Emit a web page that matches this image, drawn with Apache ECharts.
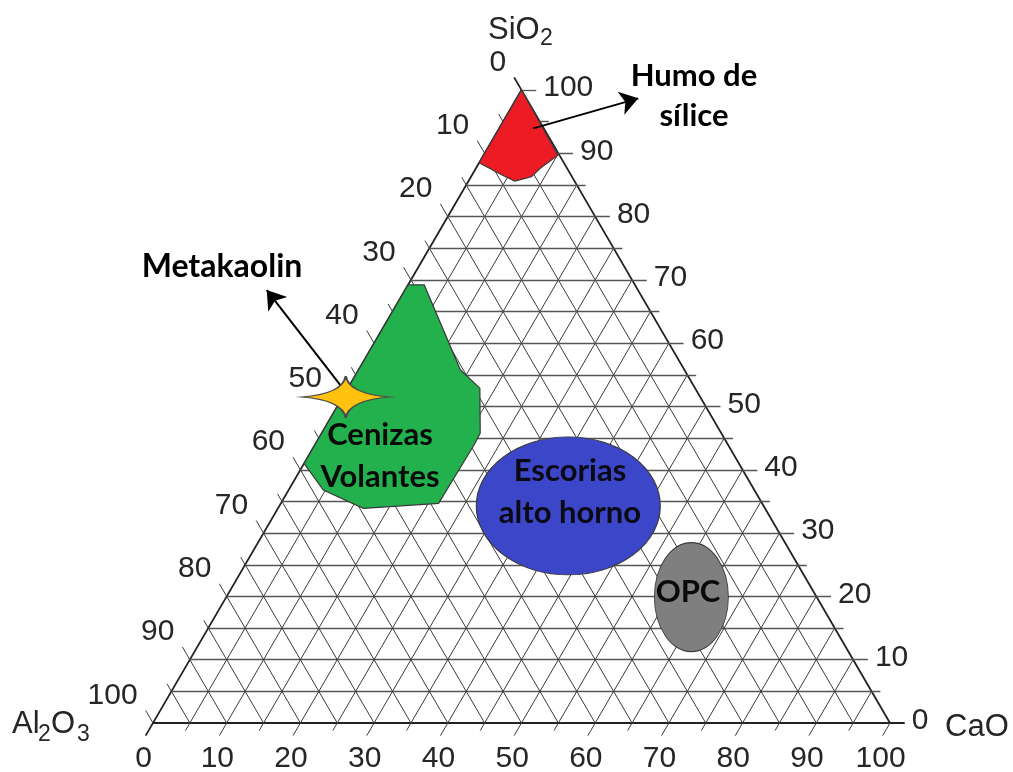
<!DOCTYPE html>
<html>
<head>
	<meta charset="UTF-8">
	<title>Diagrama ternario SiO2 - Al2O3 - CaO</title>
	<script src="https://cdn.jsdelivr.net/npm/echarts@6/dist/echarts.min.js"></script>
	<style>
		html, body { margin: 0; padding: 0; background: #fff; }
		#main { width: 1013px; height: 772px; }
	</style>
</head>
<body>
<div id="main"></div>
<script>
	// marcas de los tres ejes (% en peso)
	var ticks = [0, 10, 20, 30, 40, 50, 60, 70, 80, 90, 100];
	var gridSteps = [0, 5, 10, 15, 20, 25, 30, 35, 40, 45, 50, 55, 60, 65, 70, 75, 80, 85, 90, 95, 100];

	// regiones, puntos [SiO2, CaO]  (Al2O3 = 100 - SiO2 - CaO)
	var humoSilice = [[100, 0], [89.7, 10.1], [87.6, 8.7], [86.3, 8.2], [85.6, 6.3], [86.6, 4.0], [88.5, 0]];
	var cenizasVolantes = [[69.2, 0], [69.2, 2.2], [55.8, 13.8], [52.9, 17.9], [45.8, 21.5], [44.2, 21.6],
		[34.7, 21.4], [33.9, 11.6], [36.8, 4.7], [41.0, 0]];
	var escorias = [[34.3, 39.2]];
	var opc = [[19.9, 63.1]];
	var metakaolin = [[51.5, 0.4]];

	// flechas en unidades del grafico (x 0-100, y 0-86.6)
	var flechaHumo = [[51.6, 81.35], [65.85, 85.46]];
	var flechaMeta = [[25.6, 46.0], [15.43, 59.23]];

	var H = Math.sqrt(3) / 2;
	function toXY(si, ca) {
		return [ca + si / 2, si * H];
	}

	var chart = echarts.init(document.getElementById('main'));

	// lineas de la malla + marcas
	var gridLines = [];
	gridSteps.forEach(function (v) {
		var ext = (v % 10 === 0) ? 2 : 1.2;
		var edge = (v === 0);
		var slant = {color: edge ? '#222' : '#3a3a3a', width: edge ? 1.8 : 1, opacity: 1};
		var horiz = {color: edge ? '#222' : '#555', width: edge ? 1.8 : 1.3, opacity: 1};
		// SiO2 constante (horizontal), marca a la derecha
		gridLines.push({coords: [toXY(v, 0), toXY(v, 100 - v + ext)], lineStyle: horiz});
		// CaO constante, marca abajo
		gridLines.push({coords: [toXY(100 - v, v), toXY(-ext, v)], lineStyle: slant});
		// Al2O3 constante, marca a la izquierda
		gridLines.push({coords: [toXY(0, 100 - v), toXY(100 - v + ext, -ext)], lineStyle: slant});
	});

	function polySeries(pts, color) {
		var plot = pts.map(function (p) { return toXY(p[0], p[1]); });
		return {
			type: 'custom',
			data: [plot[0]],
			z: 3,
			silent: true,
			clip: false,
			renderItem: function (params, api) {
				return {
					type: 'polygon',
					shape: {points: plot.map(function (p) { return api.coord(p); })},
					style: {fill: color, stroke: '#3a3a3a', lineWidth: 1.2}
				};
			}
		};
	}

	var sans = '"Liberation Sans", Arial, sans-serif';
	var bold = 'Lato, "Open Sans", sans-serif';

	function label(text, x, y, size, opts) {
		opts = opts || {};
		var align = opts.align || 'left';
		return {
			type: 'text', x: x, y: y, z: 10,
			style: {
				text: text,
				fontSize: size,
				fontFamily: opts.bold ? bold : sans,
				fontWeight: opts.bold ? 'bold' : 'normal',
				fill: opts.color || '#262626',
				align: align, textAlign: align,
				verticalAlign: 'middle', textVerticalAlign: 'middle'
			}
		};
	}

	var option = {
		animation: false,
		grid: {left: 153, top: 90, width: 737, height: 633},
		xAxis: {type: 'value', min: 0, max: 100, show: false},
		yAxis: {type: 'value', min: 0, max: 100 * H, show: false},
		series: [
			{
				type: 'lines',
				coordinateSystem: 'cartesian2d',
				polyline: false,
				silent: true,
				clip: false,
				z: 1,
				lineStyle: {opacity: 1},
				data: gridLines
			},
			polySeries(humoSilice, '#ed1c24'),
			polySeries(cenizasVolantes, '#22b14c'),
			{
				type: 'scatter',
				z: 3,
				silent: true,
				clip: false,
				symbol: 'circle',
				symbolSize: [184, 138],
				itemStyle: {color: '#3c46c8', borderColor: '#3a3a3a', borderWidth: 1, opacity: 1},
				data: escorias.map(function (p) { return toXY(p[0], p[1]); })
			},
			{
				type: 'scatter',
				z: 3,
				silent: true,
				clip: false,
				symbol: 'circle',
				symbolSize: [74, 109],
				itemStyle: {color: '#7f7f7f', borderColor: '#3a3a3a', borderWidth: 1, opacity: 1},
				data: opc.map(function (p) { return toXY(p[0], p[1]); })
			},
			{
				type: 'lines',
				coordinateSystem: 'cartesian2d',
				silent: true,
				clip: false,
				z: 4,
				symbol: ['none', 'arrow'],
				symbolSize: 18,
				lineStyle: {color: '#000', width: 2, opacity: 1},
				data: [{coords: flechaHumo}, {coords: flechaMeta}]
			},
			{
				type: 'scatter',
				z: 5,
				silent: true,
				clip: false,
				symbol: 'path://M0,-20 Q3,-3 44,0 Q3,3 0,20 Q-3,3 -44,0 Q-3,-3 0,-20 Z',
				symbolSize: [88, 42],
				itemStyle: {color: '#ffc20e', borderColor: '#4a4a4a', borderWidth: 1.5, opacity: 1},
				data: metakaolin.map(function (p) { return toXY(p[0], p[1]); })
			},
			{
				// etiquetas de los tres ejes
				type: 'custom',
				silent: true,
				clip: false,
				z: 6,
				data: ticks.map(function (v) { return [v, 0]; }),
				renderItem: function (params, api) {
					var v = api.value(0);
					var r = api.coord(toXY(v, 100 - v + 2));
					var b = api.coord(toXY(-2, v));
					var l = api.coord(toXY(100 - v + 2, -2));
					return {
						type: 'group',
						children: [
							label(String(v), r[0] + 7, r[1] - 2, 30, {align: 'left'}),
							label(String(v), b[0] - 2, b[1] + 23, 30, {align: 'center'}),
							label(String(v), l[0] - 8, l[1] - 15, 30, {align: 'right'})
						]
					};
				}
			}
		],
		graphic: [
			label('SiO', 488, 30, 31),
			label('2', 540, 39, 23),
			label('Al', 12, 724, 31),
			label('2', 38, 735, 23),
			label('O', 51, 724, 31),
			label('3', 77, 735, 23),
			label('CaO', 945, 727, 31),

			label('Humo de', 694, 76, 31, {bold: true, align: 'center', color: '#000'}),
			label('sílice', 694, 116, 31, {bold: true, align: 'center', color: '#000'}),
			label('Metakaolin', 222, 267, 32, {bold: true, align: 'center', color: '#000'}),
			label('Cenizas', 380, 435, 31, {bold: true, align: 'center', color: '#0a0a0a'}),
			label('Volantes', 380, 477, 31, {bold: true, align: 'center', color: '#0a0a0a'}),
			label('Escorias', 570, 471, 31, {bold: true, align: 'center', color: '#0a0a14'}),
			label('alto horno', 570, 513, 31, {bold: true, align: 'center', color: '#0a0a14'}),
			label('OPC', 688, 592, 31, {bold: true, align: 'center', color: '#0a0a0a'})
		]
	};

	chart.setOption(option);
</script>
</body>
</html>
